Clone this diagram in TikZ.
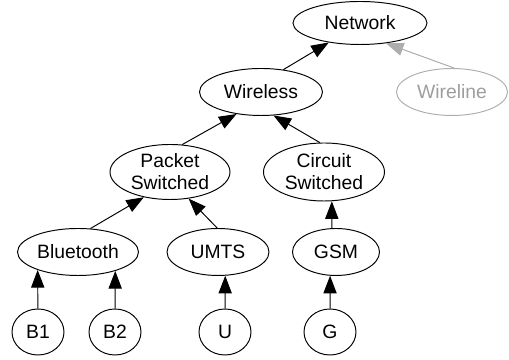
\documentclass[tikz,border=0pt]{standalone}
\usepackage{fontspec}
\setmainfont{Liberation Sans}
\usepackage{xcolor}
\usetikzlibrary{shapes.geometric,arrows.meta}
\tikzstyle{oval} = [ellipse, draw=black, line width=0.55pt, inner sep=0pt, align=center, font=\fontsize{11}{12.5}\selectfont]
\tikzstyle{ghost} = [oval, draw=black!32, text=black!38]
\tikzstyle{arrow} = [line width=0.55pt,-{Triangle[length=10pt,width=7.5pt]}]
\tikzstyle{ghostarrow} = [arrow, draw=black!32, fill=black!32]

\begin{document}
\begin{tikzpicture}[node distance = 1.6cm]
	\useasboundingbox (-7.2,0.46) rectangle (2.98,-6.74);

	\node (network) [oval, minimum width=2.68cm, minimum height=0.86cm] {Network};
	\node (wireless) [oval, minimum width=2.46cm, minimum height=0.94cm, below of=network, xshift=-1.98cm, yshift=0.22cm] {Wireless};
	\node (wireline) [ghost, minimum width=2.22cm, minimum height=0.94cm, below of=network, xshift=1.84cm, yshift=0.22cm] {Wireline};
	\node (packet) [oval, minimum width=2.4cm, minimum height=1.1cm, below of=wireless, xshift=-1.82cm] {Packet\\Switched};
	\node (circuit) [oval, minimum width=2.42cm, minimum height=1.16cm, below of=wireless, xshift=1.26cm] {Circuit\\Switched};
	\node (bluetooth) [oval, minimum width=2.42cm, minimum height=0.94cm, below of=packet, xshift=-1.84cm] {Bluetooth};
	\node (umts) [oval, minimum width=2.04cm, minimum height=0.94cm, below of=packet, xshift=0.96cm] {UMTS};
	\node (gsm) [oval, minimum width=1.74cm, minimum height=0.94cm, below of=circuit, xshift=0.24cm] {GSM};
	\node (b1) [oval, minimum width=1.04cm, minimum height=0.92cm, below of=bluetooth, xshift=-0.8cm] {B1};
	\node (b2) [oval, minimum width=1.04cm, minimum height=0.92cm, below of=bluetooth, xshift=0.74cm] {B2};
	\node (u) [oval, minimum width=1.04cm, minimum height=0.92cm, below of=umts, xshift=0.14cm] {U};
	\node (g) [oval, minimum width=1.04cm, minimum height=0.92cm, below of=gsm, xshift=-0.12cm] {G};

	\draw [arrow] (wireless.45) -- (network.212);
	\draw [ghostarrow] (wireline.85) -- (network.322);
	\draw [arrow] (packet.66) -- (wireless.222);
	\draw [arrow] (circuit.98) -- (wireless.298);
	\draw [arrow] (bluetooth.62) -- (packet.224);
	\draw [arrow] (umts.92) -- (packet.305);
	\draw [arrow] (gsm.100) -- (circuit.285);
	\draw [arrow] (b1) -- (bluetooth.204);
	\draw [arrow] (b2) -- (bluetooth.333);
	\draw [arrow] (u) -- (umts.287);
	\draw [arrow] (g) -- (gsm.256);


\end{tikzpicture}
\end{document}
